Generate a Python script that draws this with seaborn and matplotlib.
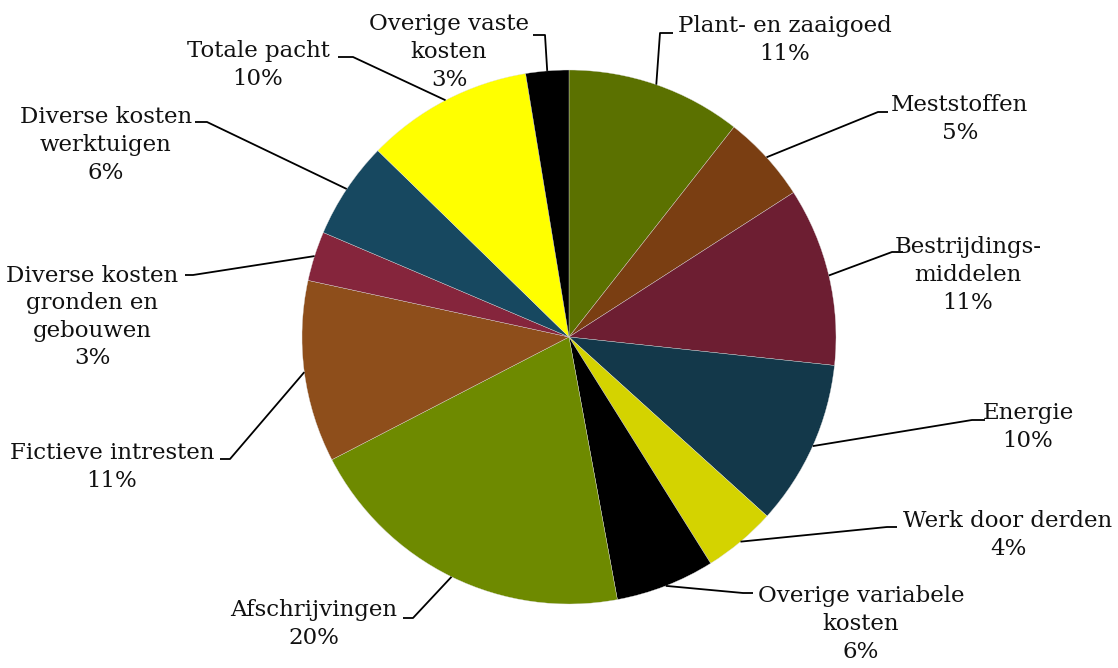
import numpy as np
import matplotlib.pyplot as plt
import seaborn as sns

# -----------------------------
# Données (parts en %)
# -----------------------------
categories = ["Plant- en zaaigoed", "Meststoffen", "Bestrijdings-\nmiddelen", "Energie",
              "Werk door derden", "Overige variabele\nkosten", "Afschrijvingen",
              "Fictieve intresten", "Diverse kosten\ngronden en\ngebouwen",
              "Diverse kosten\nwerktuigen", "Totale pacht", "Overige vaste\nkosten"]
shares = [10.6, 5.3, 10.8, 10.0, 4.4, 6.0, 20.3, 11.0, 3.0, 5.9, 10.1, 2.6]
colors = ["#5B7100", "#7A3E12", "#6D1E32", "#13384A", "#D4D300", "#000000",
          "#6E8A00", "#8E4E1B", "#85253C", "#174860", "#FFFF00", "#000000"]

# -----------------------------
# Mise en page (pixels, origine en haut à gauche)
# -----------------------------
W, H = 1118, 668
cx, cy, R = 569, 337, 267
# centre du bloc de texte, coude de la ligne, extrémité horizontale
text_pos = [(785, 40), (960, 119), (968, 275), (1028, 427), (1008, 535), (861, 624),
            (314, 624), (112, 467), (92, 317), (106, 145), (258, 65), (449, 52)]
elbows = [(660, 33), (878, 112), (892, 252), (972, 420), (887, 527), (743, 593),
          (413, 618), (230, 459), (193, 275), (207, 122), (353, 57), (545, 35)]
ends = [(673, 33), (888, 112), (903, 252), (985, 420), (897, 527), (753, 593),
        (403, 618), (220, 459), (185, 275), (195, 122), (338, 57), (533, 35)]

sns.set_theme(style="white")
plt.rcParams["font.family"] = ["DejaVu Serif"]

fig = plt.figure(figsize=(W / 100, H / 100), dpi=100)
ax = fig.add_axes([0, 0, 1, 1])

wedges, _ = ax.pie(shares, colors=colors, startangle=90, counterclock=False,
                   center=(cx, H - cy), radius=R,
                   wedgeprops=dict(edgecolor="#dddddd", linewidth=0.25))
ax.set_xlim(0, W)
ax.set_ylim(0, H)
ax.set_aspect("equal")
ax.axis("off")

# -----------------------------
# Étiquettes avec lignes de rappel
# -----------------------------
for w, lab, val, tp, el, en in zip(wedges, categories, shares, text_pos, elbows, ends):
    mid = np.deg2rad((w.theta1 + w.theta2) / 2)
    x0 = cx + R * np.cos(mid)
    y0 = (H - cy) + R * np.sin(mid)
    ax.plot([x0, el[0], en[0]], [y0, H - el[1], H - en[1]], color="black", lw=1.3,
            solid_capstyle="butt")
    ax.text(tp[0], H - tp[1], f"{lab}\n{round(val)}%", ha="center", va="center",
            fontsize=16.5, linespacing=1.33, color="#111111")

fig.savefig("out.png", dpi=100)
